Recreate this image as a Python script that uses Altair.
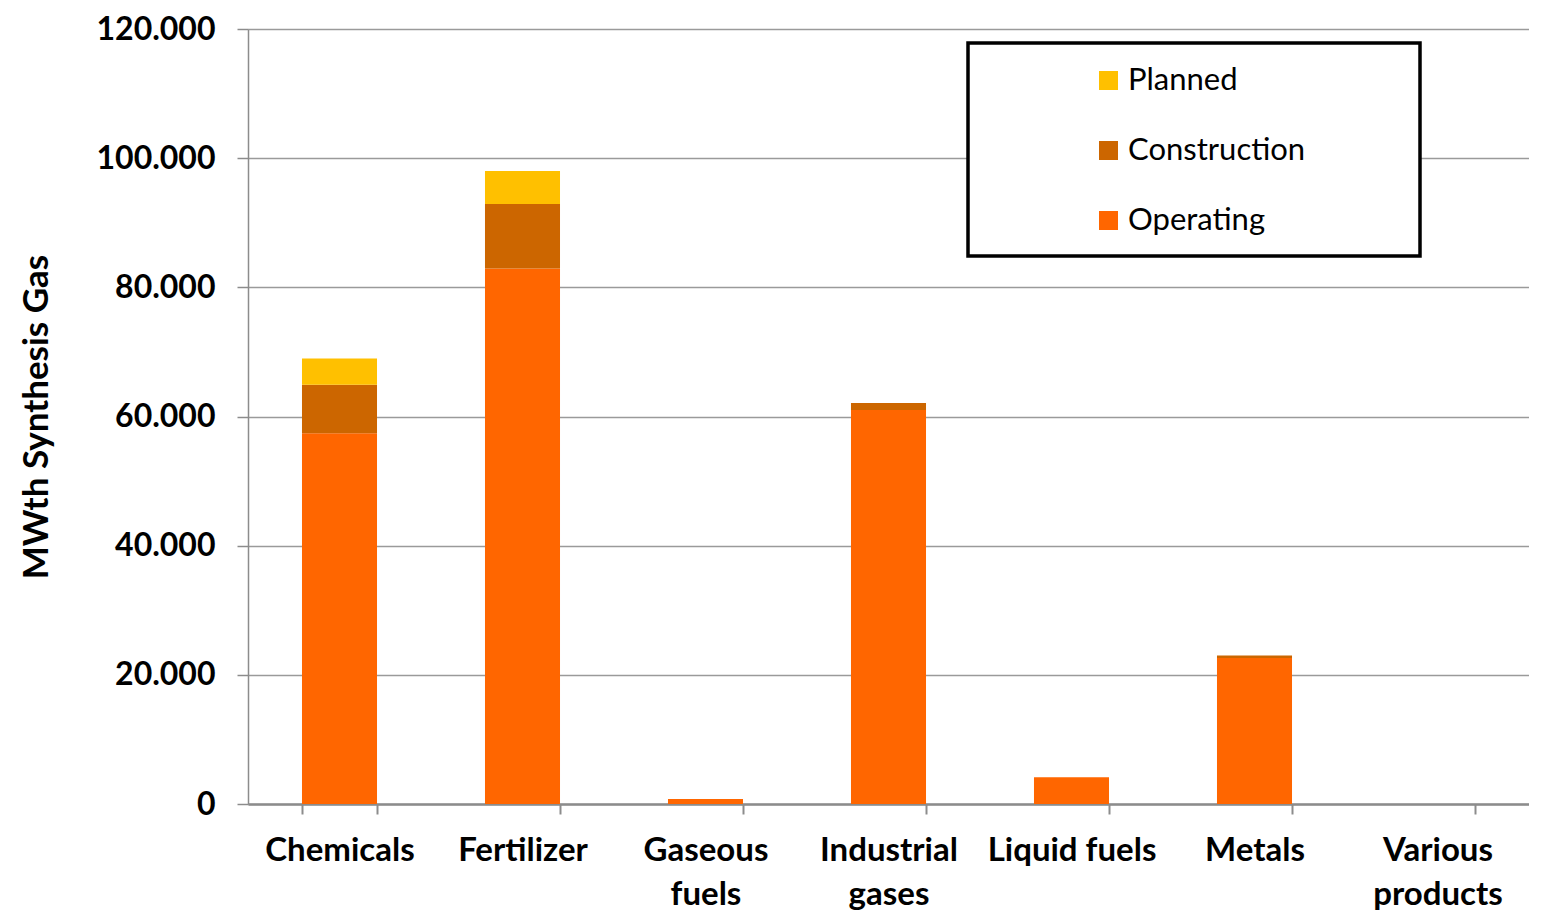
import altair as alt
import pandas as pd

categories = ["Chemicals", "Fertilizer", "Gaseous fuels", "Industrial gases",
              "Liquid fuels", "Metals", "Various products"]
operating = [57400, 82900, 770, 61000, 4150, 22600, 0]
construction = [7500, 10000, 0, 1100, 0, 400, 0]
planned = [4100, 5100, 0, 0, 0, 0, 0]
statuses = ["Planned", "Construction", "Operating"]
colors = ["#FFC000", "#CC6600", "#FF6600"]
y_ticks = [0, 20000, 40000, 60000, 80000, 100000, 120000]

rows = []
for i, c in enumerate(categories):
    for s, vals, order in (("Operating", operating, 0), ("Construction", construction, 1), ("Planned", planned, 2)):
        rows.append({"category": c, "status": s, "value": vals[i], "order": order})
df = pd.DataFrame(rows)

FONT = "Lato"

label_expr = ("datum.value == 'Gaseous fuels' ? ['Gaseous', 'fuels'] : "
              "datum.value == 'Industrial gases' ? ['Industrial', 'gases'] : "
              "datum.value == 'Various products' ? ['Various', 'products'] : datum.value")

bars = alt.Chart(df).mark_bar().encode(
    x=alt.X("category:N", sort=categories,
            scale=alt.Scale(paddingInner=0.59, paddingOuter=0.295),
            axis=alt.Axis(title=None, labelAngle=0, labelExpr=label_expr,
                          labelFont=FONT, labelFontSize=33, labelFontWeight="bold",
                          labelColor="black", labelLineHeight=44, labelPadding=20,
                          tickBand="extent", tickSize=10, tickColor="#8c8c8c", tickWidth=2,
                          domainColor="#8c8c8c", domainWidth=2.5, grid=False,
                          labelBaseline="top")),
    y=alt.Y("value:Q", stack="zero",
            scale=alt.Scale(domain=[0, 120000], nice=False),
            axis=alt.Axis(title="MWth Synthesis Gas", values=y_ticks,
                          labelExpr="replace(format(datum.value, ',.0f'), ',', '.')",
                          labelFont=FONT, labelFontSize=32, labelFontWeight="bold",
                          labelColor="black", labelPadding=22,
                          titleFont=FONT, titleFontSize=35, titleFontWeight="bold",
                          titleColor="black", titlePadding=42,
                          tickSize=11, tickColor="#8c8c8c", tickWidth=1.5,
                          domainColor="#8c8c8c", domainWidth=1.5,
                          grid=True, gridColor="#9a9a9a", gridWidth=1.5)),
    color=alt.Color("status:N",
                    scale=alt.Scale(domain=statuses, range=colors),
                    legend=alt.Legend(title=None, orient="none", legendX=845, legendY=36,
                                      symbolType="square", symbolSize=361,
                                      symbolStrokeWidth=0,
                                      labelFont=FONT, labelFontSize=31, labelColor="black",
                                      labelLimit=500,
                                      labelOffset=4, rowPadding=38, padding=0)),
    order=alt.Order("order:Q", sort="ascending"),
)

box = alt.Chart(alt.Data(values=[{}])).mark_rect(
    fill="white", stroke="black", strokeWidth=3.5
).encode(
    x=alt.value(720), x2=alt.value(1172), y=alt.value(14), y2=alt.value(227)
)

chart = alt.layer(bars, box).properties(
    width=1281, height=775,
    padding={"left": 11, "top": 5, "right": 0, "bottom": 0},
).configure_view(stroke=None).configure(background="white")

chart.save("out.html", embed_options={"renderer": "svg", "actions": False})
